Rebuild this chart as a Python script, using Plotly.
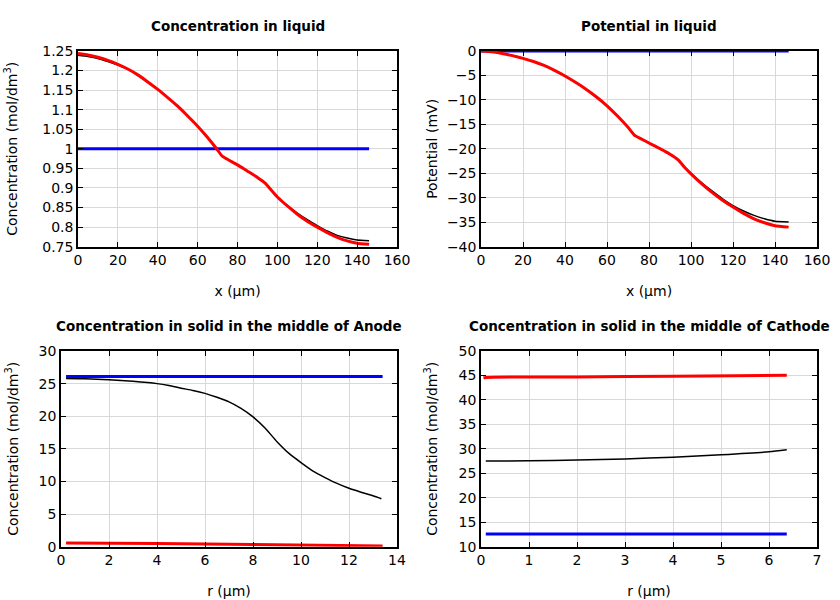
import plotly.graph_objects as go

# ---- Panel 1: concentration in liquid ----
x_liq = [0, 5, 10, 15, 20, 25, 30, 35, 40, 45, 50, 55, 60, 65, 70, 72, 74, 80, 85, 90, 94, 97, 100, 105, 110, 115, 120, 125, 130, 135, 140, 146]
c_liq_red = [1.2435, 1.240, 1.234, 1.226, 1.216, 1.204, 1.189, 1.171, 1.152, 1.131, 1.109, 1.084, 1.058, 1.029, 0.997, 0.983, 0.976, 0.959, 0.943, 0.927, 0.912, 0.894, 0.877, 0.854, 0.833, 0.815, 0.800, 0.786, 0.774, 0.765, 0.759, 0.756]
c_liq_black = [1.239, 1.236, 1.231, 1.223, 1.214, 1.203, 1.188, 1.171, 1.152, 1.131, 1.109, 1.084, 1.058, 1.029, 0.997, 0.983, 0.976, 0.959, 0.943, 0.927, 0.912, 0.894, 0.877, 0.855, 0.836, 0.819, 0.804, 0.790, 0.779, 0.772, 0.767, 0.765]
x_liq_blue = [0, 146]
c_liq_blue = [1.0, 1.0]

# ---- Panel 2: potential in liquid ----
x_pot = [0, 5, 10, 15, 20, 25, 30, 35, 40, 45, 50, 55, 60, 65, 70, 73, 76, 80, 85, 90, 94, 97, 100, 105, 110, 115, 120, 125, 130, 135, 140, 146.5]
p_red = [0, -0.15, -0.5, -0.95, -1.5, -2.15, -2.95, -3.95, -5.1, -6.4, -7.8, -9.4, -11.2, -13.3, -15.6, -17.2, -17.9, -18.8, -19.9, -21.1, -22.3, -23.8, -25.1, -27.1, -28.9, -30.5, -31.9, -33.2, -34.3, -35.1, -35.7, -36.0]
p_black = [0, -0.15, -0.5, -0.95, -1.5, -2.15, -2.95, -3.95, -5.1, -6.4, -7.8, -9.4, -11.2, -13.3, -15.6, -17.2, -17.9, -18.8, -19.9, -21.1, -22.3, -23.7, -25.0, -26.9, -28.6, -30.2, -31.6, -32.7, -33.6, -34.3, -34.8, -34.95]
x_pot_blue = [0, 146.5]
p_blue = [0, 0]

# ---- Panel 3: solid, anode ----
r_an = [0.21, 1, 2, 3, 4, 4.5, 5, 5.5, 6, 6.5, 7, 7.5, 8, 8.5, 9, 9.5, 10, 10.5, 11, 11.5, 12, 12.5, 13, 13.35]
c_an_black = [25.8, 25.75, 25.6, 25.35, 25.0, 24.7, 24.3, 23.95, 23.5, 22.9, 22.2, 21.2, 19.9, 18.2, 16.1, 14.3, 12.9, 11.6, 10.6, 9.7, 8.95, 8.35, 7.8, 7.35]
r_an_blue = [0.21, 13.4]
c_an_blue = [26.1, 26.1]
r_an_red = [0.21, 4, 8, 13.4]
c_an_red = [0.55, 0.5, 0.35, 0.1]

# ---- Panel 4: solid, cathode ----
r_ca = [0.1, 1, 2, 3, 4, 5, 6, 6.37]
c_ca_black = [27.5, 27.55, 27.7, 27.95, 28.3, 28.8, 29.4, 29.8]
r_ca_red = [0.05, 0.1, 2, 4, 6.37]
c_ca_red = [44.5, 44.6, 44.7, 44.85, 45.05]
r_ca_blue = [0.1, 6.37]
c_ca_blue = [12.6, 12.6]

W, H = 840, 600
FONT = "DejaVu Sans"

def px_x(a, b):
    return [a / W, b / W]

def px_y(top, bottom):
    return [1 - bottom / H, 1 - top / H]

fig = go.Figure()

def add_panel(idx, series):
    xa = "x" if idx == 1 else f"x{idx}"
    ya = "y" if idx == 1 else f"y{idx}"
    for xs, ys, color, width, shape, sm in series:
        fig.add_trace(go.Scatter(x=xs, y=ys, mode="lines",
                                 line=dict(color=color, width=width, shape=shape, smoothing=sm),
                                 xaxis=xa, yaxis=ya, showlegend=False,
                                 hoverinfo="skip"))

add_panel(1, [(x_liq, c_liq_black, "black", 1.5, "spline", 0.4),
              (x_liq_blue, c_liq_blue, "#0000ff", 3, "linear", 0),
              (x_liq, c_liq_red, "#ff0000", 3, "spline", 0.4)])
add_panel(2, [(x_pot, p_black, "black", 1.5, "spline", 0.4),
              (x_pot_blue, p_blue, "#0000ff", 3, "linear", 0),
              (x_pot, p_red, "#ff0000", 3, "spline", 0.4)])
add_panel(3, [(r_an, c_an_black, "black", 1.5, "spline", 0.6),
              (r_an_blue, c_an_blue, "#0000ff", 3, "linear", 0),
              (r_an_red, c_an_red, "#ff0000", 3, "spline", 0.6)])
add_panel(4, [(r_ca, c_ca_black, "black", 1.5, "spline", 0.6),
              (r_ca_blue, c_ca_blue, "#0000ff", 3, "linear", 0),
              (r_ca_red, c_ca_red, "#ff0000", 3, "spline", 0.6)])

def axis_common(**kw):
    d = dict(showline=True, linecolor="black", linewidth=1.5, mirror="ticks",
             ticks="inside", ticklen=5, tickcolor="black", tickwidth=1,
             showgrid=True, gridcolor="#d9d9d9", gridwidth=1, zeroline=False,
             automargin=False,
             tickfont=dict(family=FONT, size=14, color="black"))
    d.update(kw)
    return d

ytitle_c = "Concentration (mol/dm<sup>3</sup>)"
TF = dict(family=FONT, size=14, color="black")

layout = dict(
    width=W, height=H, margin=dict(l=0, r=0, t=0, b=0, autoexpand=False),
    paper_bgcolor="white", plot_bgcolor="white",
    font=dict(family=FONT, size=14, color="black"),
    xaxis=axis_common(domain=px_x(78, 397), range=[0, 160], dtick=20, anchor="y",
                      title=dict(text="x (µm)", standoff=19, font=TF)),
    yaxis=axis_common(domain=px_y(51, 246.7), range=[0.75, 1.25], dtick=0.05, anchor="x",
                      title=dict(text=ytitle_c, standoff=21, font=TF)),
    xaxis2=axis_common(domain=px_x(481, 817), range=[0, 160], dtick=20, anchor="y2",
                       title=dict(text="x (µm)", standoff=19, font=TF)),
    yaxis2=axis_common(domain=px_y(51, 246.7), range=[-40, 0], dtick=5, anchor="x2",
                       title=dict(text="Potential (mV)", standoff=6, font=TF)),
    xaxis3=axis_common(domain=px_x(61, 397), range=[0, 14], dtick=2, anchor="y3",
                       title=dict(text="r (µm)", standoff=19, font=TF)),
    yaxis3=axis_common(domain=px_y(351, 546.7), range=[0, 30], dtick=5, anchor="x3",
                       title=dict(text=ytitle_c, standoff=17, font=TF)),
    xaxis4=axis_common(domain=px_x(481, 817), range=[0, 7], dtick=1, anchor="y4",
                       title=dict(text="r (µm)", standoff=19, font=TF)),
    yaxis4=axis_common(domain=px_y(351, 546.7), range=[10, 50], dtick=5, anchor="x4",
                       title=dict(text=ytitle_c, standoff=18, font=TF)),
)

titles = [("Concentration in liquid", (78 + 397) / 2, 26),
          ("Potential in liquid", (481 + 817) / 2, 26),
          ("Concentration in solid in the middle of Anode", (61 + 397) / 2, 326),
          ("Concentration in solid in the middle of Cathode", (481 + 817) / 2, 326)]
layout["annotations"] = [dict(text=f"<b>{t}</b>", x=cx / W, y=1 - cy / H, xref="paper", yref="paper",
                              showarrow=False, xanchor="center", yanchor="middle",
                              font=dict(family=FONT, size=13.5, color="black"))
                         for t, cx, cy in titles]

fig.update_layout(**layout)
fig.write_html("out.html", config={"displayModeBar": False},
               post_script="document.body.style.margin='0';document.body.style.padding='0';")
